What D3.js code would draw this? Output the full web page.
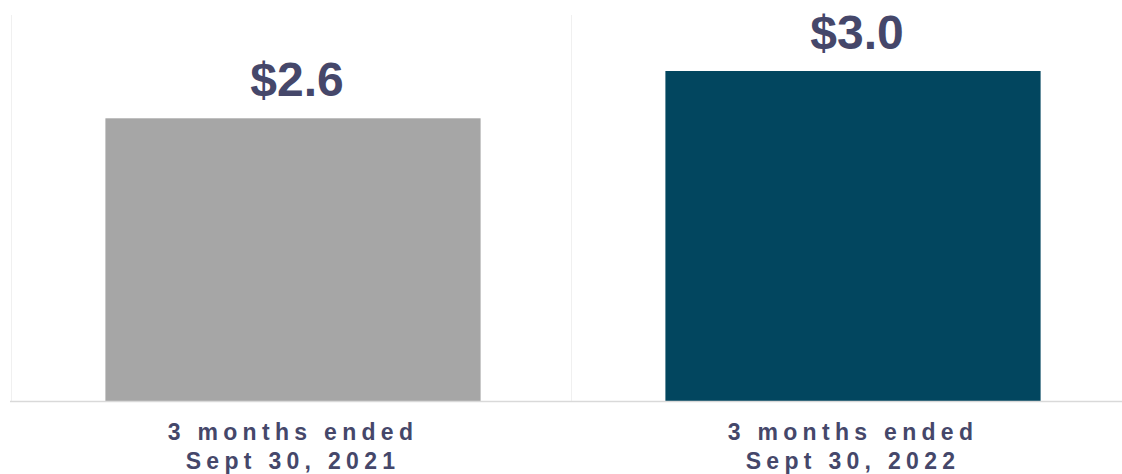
<!DOCTYPE html>
<html>
<head>
<meta charset="utf-8">
<script src="https://cdn.jsdelivr.net/npm/d3@7"></script>
<style>
  html, body { margin: 0; padding: 0; background: #ffffff; }
  svg { display: block; }
</style>
</head>
<body>
<svg id="chart" width="1122" height="474"></svg>
<script>
// Data
const categories = ["3 months ended|Sept 30, 2021", "3 months ended|Sept 30, 2022"];
const values = [2.57, 3.0];
const valueLabels = ["$2.6", "$3.0"];
const barColors = ["#a6a6a6", "#02465f"];

const W = 1122, H = 474;
const margin = { left: 11, top: 16, bottom: 73 };
const svg = d3.select("#chart");
const textColor = "#45476a";

const x = d3.scaleBand()
  .domain(categories)
  .range([margin.left + 2, margin.left + 2 + 1120])
  .paddingInner(0.33)
  .paddingOuter(0.165);

const y = d3.scaleLinear()
  .domain([0, 3.5])
  .range([H - margin.bottom, margin.top]);

// faint vertical category separators
const step = x.step();
const seps = categories.map((c, i) => margin.left + i * step);
svg.append("g").selectAll("line").data(seps).join("line")
  .attr("x1", d => d + 0.5).attr("x2", d => d + 0.5)
  .attr("y1", y(3.5) - 1).attr("y2", y(0))
  .attr("stroke", "#f0f0f0").attr("stroke-width", 1);

// bars
svg.append("g").selectAll("rect").data(values).join("rect")
  .attr("x", (d, i) => x(categories[i]))
  .attr("width", x.bandwidth())
  .attr("y", d => y(d))
  .attr("height", d => y(0) - y(d))
  .attr("fill", (d, i) => barColors[i]);

// baseline
svg.append("line")
  .attr("x1", 10).attr("x2", W)
  .attr("y1", y(0) + 0.5).attr("y2", y(0) + 0.5)
  .attr("stroke", "#d9d9d9").attr("stroke-width", 1.5);

// value labels
svg.append("g").selectAll("text").data(values).join("text")
  .attr("x", (d, i) => x(categories[i]) + x.bandwidth() / 2 + 4)
  .attr("y", d => y(d) - 22)
  .attr("text-anchor", "middle")
  .attr("font-family", "Liberation Sans, Arial, sans-serif")
  .attr("font-weight", "bold")
  .attr("font-size", 48)
  .attr("fill", textColor)
  .text((d, i) => valueLabels[i]);

// category labels via axis
const axis = d3.axisBottom(x).tickSize(0).tickFormat("");
const gAxis = svg.append("g")
  .attr("transform", `translate(0,${y(0)})`)
  .call(axis);
gAxis.select(".domain").remove();
gAxis.selectAll(".tick").each(function(d) {
  const lines = d.split("|");
  const t = d3.select(this).append("text")
    .attr("text-anchor", "middle")
    .attr("font-family", "Liberation Sans, Arial, sans-serif")
    .attr("font-weight", "bold")
    .attr("font-size", 23)
    .attr("letter-spacing", "5.3px")
    .attr("fill", textColor);
  lines.forEach((ln, i) => {
    t.append("tspan").attr("x", 0).attr("y", 39 + i * 29).text(ln);
  });
});
</script>
</body>
</html>
